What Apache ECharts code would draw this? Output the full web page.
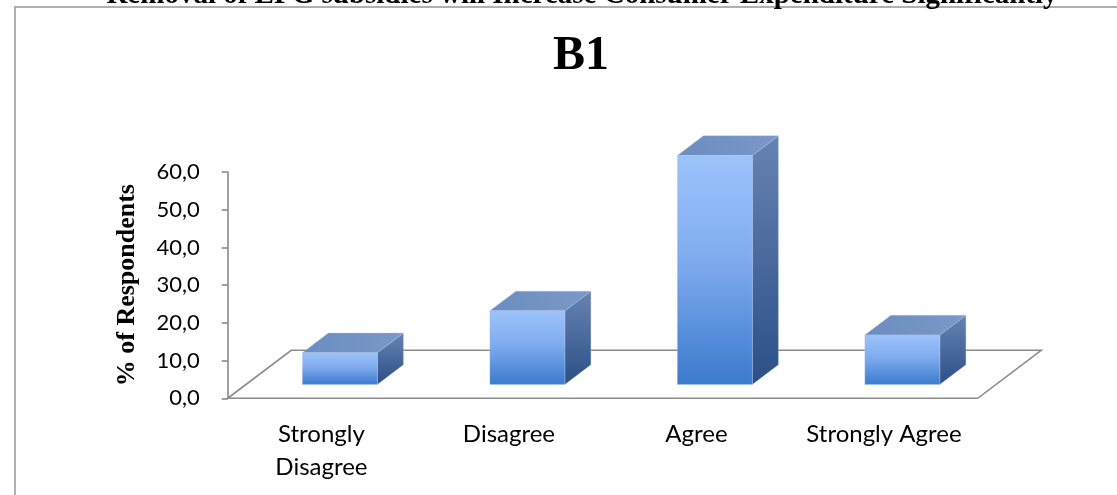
<!DOCTYPE html>
<html>
<head>
<meta charset="utf-8">
<style>
  html, body { margin: 0; padding: 0; background: #ffffff; }
  #chart { width: 1117px; height: 495px; }
</style>
<script src="https://cdn.jsdelivr.net/npm/echarts@6/dist/echarts.min.js"></script>
</head>
<body>
<div id="chart"></div>
<script>
// Survey response shares for statement B1
const categories = ['Strongly\nDisagree', 'Disagree', 'Agree', 'Strongly Agree'];
const respondentShare = [8.4, 19.5, 60.7, 13.1];
const yTicks = { min: 0, max: 60, step: 10 };
const headline = 'Removal of LPG subsidies will Increase Consumer Expenditure Significantly';
const chartTitle = 'B1';
const yAxisTitle = '% of Respondents';

// Oblique 3D projection of the floor and boxes (pixels)
const DEPTH_DX = 63.5;
const DEPTH_DY = -48;
const BAR_FRONT = 0.29;   // fraction of floor depth where the bar front sits
const BAR_BACK = 0.70;    // fraction of floor depth where the bar back sits
const BAR_WIDTH = 0.4;    // fraction of category band

const chart = echarts.init(document.getElementById('chart'), null, { renderer: 'canvas' });

function floorItem(params) {
  const cs = params.coordSys;
  const x0 = cs.x, x1 = cs.x + cs.width, y0 = cs.y + cs.height;
  const pts = [[x0, y0], [x1, y0], [x1 + DEPTH_DX, y0 + DEPTH_DY], [x0 + DEPTH_DX, y0 + DEPTH_DY]];
  return {
    type: 'polygon',
    shape: { points: pts },
    style: { fill: 'rgba(255,255,255,0)', stroke: '#8a8a8a', lineWidth: 1.6 }
  };
}

function barItem(params, api) {
  const cat = api.value(0);
  const base = api.coord([cat, 0]);
  const top = api.coord([cat, api.value(1)]);
  const bw = api.size([1, 0])[0] * BAR_WIDTH;
  const fx = DEPTH_DX * BAR_FRONT, fy = DEPTH_DY * BAR_FRONT;
  const dx = DEPTH_DX * (BAR_BACK - BAR_FRONT), dy = DEPTH_DY * (BAR_BACK - BAR_FRONT);
  const xl = base[0] - bw / 2 + fx, xr = base[0] + bw / 2 + fx;
  const yb = base[1] + fy, yt = top[1] + fy;
  const edge = 'rgba(180,200,235,0.55)';
  return {
    type: 'group',
    children: [
      {
        type: 'polygon',
        shape: { points: [[xr, yt], [xr + dx, yt + dy], [xr + dx, yb + dy], [xr, yb]] },
        style: {
          fill: new echarts.graphic.LinearGradient(0, 0, 0, 1, [
            { offset: 0, color: '#6783b3' },
            { offset: 1, color: '#2c4f86' }
          ]),
          stroke: edge, lineWidth: 0.6
        }
      },
      {
        type: 'polygon',
        shape: { points: [[xl, yt], [xl + dx, yt + dy], [xr + dx, yt + dy], [xr, yt]] },
        style: {
          fill: new echarts.graphic.LinearGradient(0, 0, 1, 0, [
            { offset: 0, color: '#6c8dc0' },
            { offset: 1, color: '#7a98c8' }
          ]),
          stroke: edge, lineWidth: 0.6
        }
      },
      {
        type: 'rect',
        shape: { x: xl, y: yt, width: xr - xl, height: yb - yt },
        style: {
          fill: new echarts.graphic.LinearGradient(0, 0, 0, 1, [
            { offset: 0, color: '#9cc3fb' },
            { offset: 0.45, color: '#80acef' },
            { offset: 1, color: '#3b7acd' }
          ]),
          stroke: edge, lineWidth: 0.6
        }
      }
    ]
  };
}

const labelFont = 'Lato, "Open Sans", sans-serif';

chart.setOption({
  animation: false,
  backgroundColor: '#ffffff',
  title: [
    {
      text: headline,
      left: 577,
      textAlign: 'center',
      top: -24,
      textStyle: { fontFamily: '"Liberation Serif", serif', fontWeight: 'bold', fontSize: 29, color: '#000' }
    },
    {
      text: chartTitle,
      left: 548,
      top: 28,
      textStyle: { fontFamily: '"Liberation Serif", serif', fontWeight: 'bold', fontSize: 48, color: '#000' }
    }
  ],
  graphic: [
    {
      type: 'rect',
      shape: { x: 15, y: 7, width: 1130, height: 520 },
      style: { fill: 'none', stroke: '#b0b0b0', lineWidth: 2 },
      silent: true
    }
  ],
  grid: { left: 227.7, top: 172, width: 750, height: 226.3, containLabel: false },
  xAxis: {
    type: 'category',
    data: categories,
    boundaryGap: true,
    axisLine: { show: false },
    axisTick: { show: false },
    axisLabel: {
      interval: 0,
      margin: 19,
      fontFamily: labelFont,
      fontSize: 24,
      lineHeight: 33,
      color: '#000'
    }
  },
  yAxis: {
    type: 'value',
    min: yTicks.min,
    max: yTicks.max,
    interval: yTicks.step,
    name: yAxisTitle,
    nameLocation: 'middle',
    nameRotate: 90,
    nameGap: 87,
    nameTextStyle: { fontFamily: '"Liberation Serif", serif', fontWeight: 'bold', fontSize: 26, color: '#000' },
    axisLine: { show: true, lineStyle: { color: '#8a8a8a', width: 1.6 } },
    axisTick: { show: true, inside: false, length: 6, lineStyle: { color: '#8a8a8a', width: 1.6 } },
    splitLine: { show: false },
    axisLabel: {
      margin: 28,
      fontFamily: labelFont,
      fontSize: 22,
      color: '#000',
      formatter: v => v.toFixed(1).replace('.', ',')
    }
  },
  series: [
    {
      type: 'custom',
      renderItem: floorItem,
      data: [[0, 0]],
      clip: false,
      silent: true,
      z: 1
    },
    {
      type: 'custom',
      renderItem: barItem,
      data: respondentShare.map((v, i) => [i, v]),
      encode: { x: 0, y: 1 },
      clip: false,
      z: 2
    }
  ]
});
</script>
</body>
</html>
